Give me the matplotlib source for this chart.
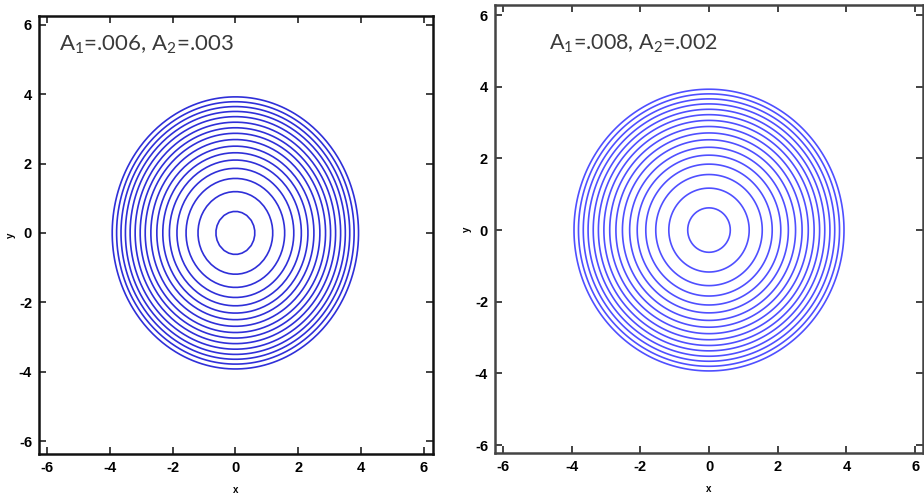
import numpy as np
import matplotlib
matplotlib.use('Agg')
import matplotlib.pyplot as plt

# radii of the contour rings (same units as the axes)
radii_left = [0.62, 1.19, 1.57, 1.86, 2.10, 2.31, 2.50, 2.69, 2.87, 3.03,
              3.19, 3.35, 3.50, 3.64, 3.78, 3.92]
radii_right = [0.62, 1.17, 1.55, 1.84, 2.09, 2.31, 2.52, 2.71, 2.89, 3.06,
               3.22, 3.37, 3.52, 3.66, 3.80, 3.93]
ticks = [-6, -4, -2, 0, 2, 4, 6]
labels = [r'A$_1$=.006, A$_2$=.003', r'A$_1$=.008, A$_2$=.002']

plt.rcParams['font.family'] = ['Liberation Sans', 'DejaVu Sans']
plt.rcParams['axes.unicode_minus'] = False
plt.rcParams['mathtext.fontset'] = 'custom'
plt.rcParams['mathtext.rm'] = 'Lato'
plt.rcParams['mathtext.it'] = 'Lato'
plt.rcParams['mathtext.default'] = 'regular'

fig = plt.figure(figsize=(9.24, 4.94), dpi=100)
ax1 = fig.add_axes([39 / 924, 40 / 494, 394 / 924, 438 / 494])
ax2 = fig.add_axes([495 / 924, 41 / 494, 428 / 924, 448 / 494])


def panel(ax, radii, n, color, lim, text, tx, ty, fs, spine_col):
    g = np.linspace(-2 * np.pi, 2 * np.pi, n)
    X, Y = np.meshgrid(g, g)
    R = np.sqrt(X ** 2 + Y ** 2)
    ax.contour(X, Y, R, levels=radii, colors=color, linewidths=1.2)
    ax.set_xlim(lim[0], lim[1])
    ax.set_ylim(lim[2], lim[3])
    ax.set_xticks(ticks)
    ax.set_yticks(ticks)
    ax.tick_params(direction='in', top=True, right=True, length=5,
                   width=1.2, labelsize=10.5, pad=5, color='#222222')
    for lab in ax.get_xticklabels() + ax.get_yticklabels():
        lab.set_fontweight('bold')
    for s in ax.spines.values():
        s.set_linewidth(1.8)
        s.set_color(spine_col)
    ax.set_xlabel('x', fontsize=7, fontweight='bold', labelpad=7)
    ax.set_ylabel('y', fontsize=7, fontweight='bold', labelpad=2)
    ax.text(tx, ty, text, transform=ax.transAxes, fontsize=fs,
            color='#3a3a3a', family='Lato', va='center')


panel(ax1, radii_left, 90, '#2f2fd8', (-6.25, 6.29, -6.37, 6.25),
      labels[0], 0.05, 0.934, 16, '#111111')
panel(ax2, radii_right, 181, '#4f4fff', (-6.23, 6.23, -6.22, 6.28),
      labels[1], 0.127, 0.913, 15.5, '#444444')

fig.savefig('out.png', dpi=100)
